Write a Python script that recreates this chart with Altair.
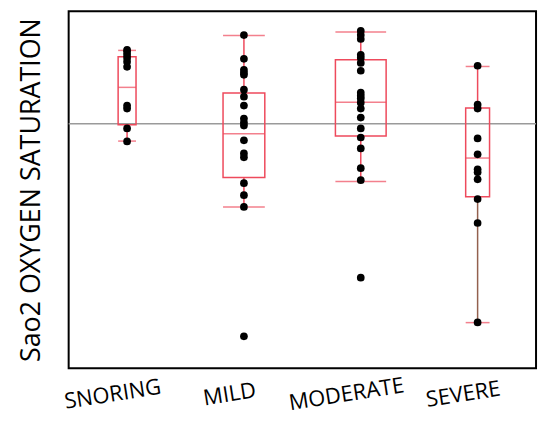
import altair as alt
import pandas as pd

groups = ["SNORING", "MILD", "MODERATE", "SEVERE"]

snoring = [97.83, 97.72, 97.55, 97.38, 97.16, 96.88, 94.71, 94.54, 93.43, 92.70]
mild = [98.66, 97.33, 96.71, 96.55, 96.43, 95.60, 95.21, 94.71, 93.98, 93.76,
        93.59, 92.76, 92.03, 91.81, 90.36, 89.69, 89.03, 81.78]
moderate = [98.89, 98.66, 98.44, 97.55, 97.38, 97.10, 96.66, 95.43, 95.26, 95.10,
            94.87, 94.54, 94.04, 93.43, 92.92, 92.31, 91.20, 90.53, 85.07]
severe = [96.94, 94.76, 94.54, 92.87, 91.98, 91.14, 90.97, 90.58, 89.47, 88.13, 82.56]

whisker_low = [92.72, 89.03, 90.45, 82.55]
q1 = [93.63, 90.68, 93.00, 89.60]
median = [95.73, 93.13, 94.89, 91.77]
q3 = [97.44, 95.42, 97.27, 94.58]
whisker_high = [97.80, 98.64, 98.83, 96.90]

reference_value = 93.69

RED = "#ee4a5c"
BROWN = "#93604e"
FONT = "Open Sans"

points = pd.DataFrame(
    [(g, v) for g, vals in zip(groups, [snoring, mild, moderate, severe]) for v in vals],
    columns=["group", "value"],
)
stats = pd.DataFrame({
    "group": groups, "lo": whisker_low, "q1": q1, "med": median,
    "q3": q3, "hi": whisker_high,
})
ref = pd.DataFrame({"value": [reference_value]})

yscale = alt.Scale(domain=[80, 100], nice=False, zero=False)
xenc = alt.X(
    "group:N", sort=groups, title="",
    scale=alt.Scale(paddingInner=0, paddingOuter=0),
    axis=alt.Axis(ticks=False, domain=False, labelAngle=351, labelFontSize=22,
                  labelFont=FONT, labelColor="black", labelPadding=16,
                  labelOffset=-16, labelAlign="center", labelBaseline="top"),
)
size_enc = alt.Size("group:N", legend=None,
                    scale=alt.Scale(type="ordinal", domain=groups, range=[18, 42, 51, 24]))
yaxis = alt.Axis(labels=False, ticks=False, domain=False, grid=False,
                 title="Sao2 OXYGEN SATURATION", titleFont=FONT, titleFontSize=27,
                 titleFontWeight="normal", titleColor="black", titlePadding=23)

refline = alt.Chart(ref).mark_rule(color="#9a9a9a", strokeWidth=1.5).encode(
    y=alt.Y("value:Q", scale=yscale, axis=yaxis)
)

boxes = alt.Chart(stats).mark_bar(fillOpacity=0, stroke=RED, strokeWidth=1.5).encode(
    x=xenc, y=alt.Y("q1:Q", scale=yscale), y2="q3:Q", size=size_enc
)
medians = alt.Chart(stats).mark_tick(color=RED, thickness=1.5).encode(
    x=xenc, y=alt.Y("med:Q", scale=yscale), size=size_enc
)
upper = alt.Chart(stats).mark_rule(color=RED, strokeWidth=1.5).encode(
    x=xenc, y=alt.Y("q3:Q", scale=yscale), y2="hi:Q"
)
lower = alt.Chart(stats).mark_rule(strokeWidth=1.5).encode(
    x=xenc, y=alt.Y("lo:Q", scale=yscale), y2="q1:Q",
    color=alt.condition(alt.datum.group == "SEVERE", alt.value(BROWN), alt.value(RED)),
)
caps_hi = alt.Chart(stats).mark_tick(color=RED, thickness=1.5).encode(
    x=xenc, y=alt.Y("hi:Q", scale=yscale), size=size_enc
)
caps_lo = alt.Chart(stats).mark_tick(color=RED, thickness=1.5).encode(
    x=xenc, y=alt.Y("lo:Q", scale=yscale), size=size_enc
)
dots = alt.Chart(points).mark_circle(color="black", opacity=1, size=60).encode(
    x=xenc, y=alt.Y("value:Q", scale=yscale)
)

chart = alt.layer(refline, boxes, medians, upper, lower, caps_hi, caps_lo, dots).properties(
    width=470, height=359,
    padding={"left": 10, "top": 2, "right": 5, "bottom": 5},
    background="white",
).configure_view(stroke="black", strokeWidth=2)

chart.save("out.html", embed_options={"renderer": "svg", "actions": False})
